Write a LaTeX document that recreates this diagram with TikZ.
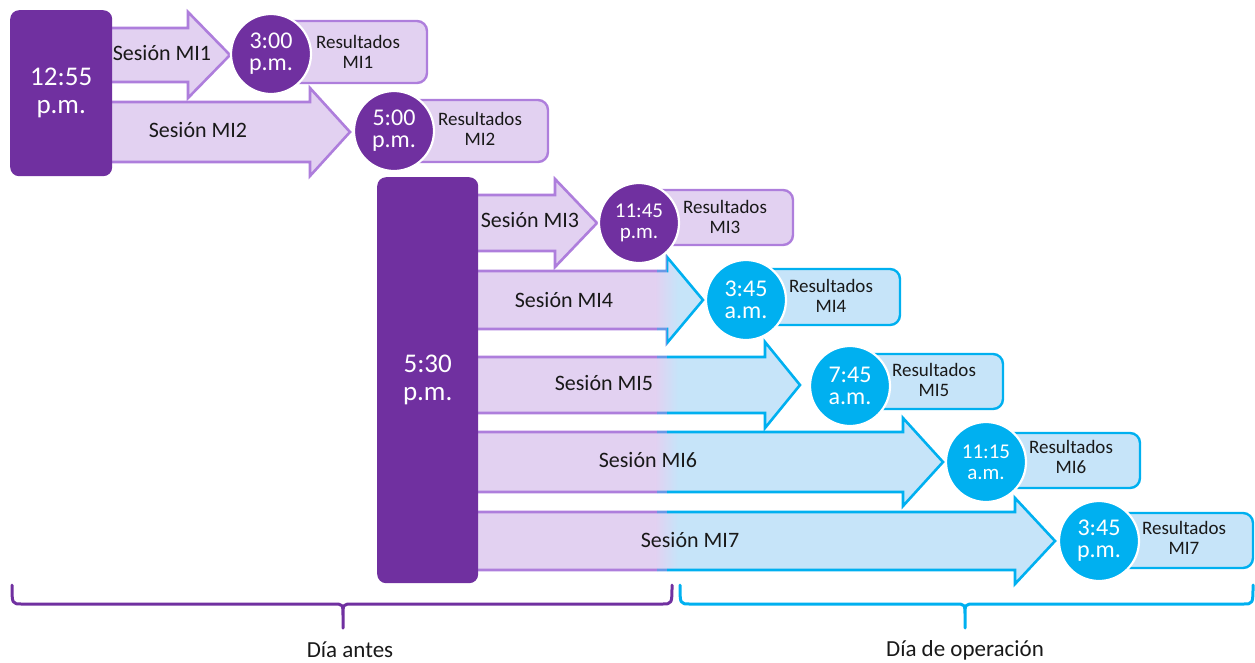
\documentclass[tikz,border=0pt]{standalone}
\usepackage{fontspec}
\setmainfont{Carlito}
\definecolor{pdark}{HTML}{7030A0}
\definecolor{lav}{HTML}{E2D1F1}
\definecolor{lavb}{HTML}{AE7EDC}
\definecolor{midb}{HTML}{6A98E6}
\definecolor{bblue}{HTML}{00B0F0}
\definecolor{lblue}{HTML}{C6E4F9}
\def\arrowpath#1#2#3#4#5#6{(#1,#4-#5) -- (#2,#4-#5) -- (#2,#4-#6) -- (#3,#4) -- (#2,#4+#6) -- (#2,#4+#5) -- (#1,#4+#5) -- cycle}
\newcommand\gradarrow[5]{%
  \begin{scope}
    \clip \arrowpath{460}{#1}{#2}{#3}{#4}{#5};
    \fill[lav] (460,#3-50) rectangle (656,#3+50);
    \shade[left color=lav,right color=lblue] (655.5,#3-50) rectangle (678,#3+50);
    \fill[lblue] (677.5,#3-50) rectangle (#2+5,#3+50);
  \end{scope}
  \begin{scope}\clip (0,#3-60) rectangle (657,#3+60);
    \draw[arrline,lavb] \arrowpath{460}{#1}{#2}{#3}{#4}{#5};\end{scope}
  \begin{scope}\clip (657,#3-60) rectangle (667,#3+60);
    \draw[arrline,midb] \arrowpath{460}{#1}{#2}{#3}{#4}{#5};\end{scope}
  \begin{scope}\clip (667,#3-60) rectangle (1255,#3+60);
    \draw[arrline,bblue] \arrowpath{460}{#1}{#2}{#3}{#4}{#5};\end{scope}}
\newcommand\bracepath[4]{%
  \draw[#4,line width=3pt,line cap=round,line join=round]
    (#1,585) .. controls (#1,604) .. (#1+10,604) -- (#2-10,604)
    .. controls (#2,604) .. (#2,616) -- (#2,628)
    (#2,616) .. controls (#2,604) .. (#2+10,604) -- (#3-10,604)
    .. controls (#3,604) .. (#3,585);}
\begin{document}
\begin{tikzpicture}[x=1pt,y=-1pt,
  arrline/.style={line width=2.6pt,line join=miter},
  tbox/.style={fill=pdark,rounded corners=9pt,text=white,align=center,
    font=\fontsize{27}{28}\selectfont,inner sep=0pt},
  tcirc/.style={circle,draw=white,line width=2.2pt,minimum size=80pt,inner sep=0pt,
    text=white,align=center,font=\fontsize{24}{22}\selectfont},
  tcircs/.style={tcirc,font=\fontsize{21}{21}\selectfont},
  resP/.style={fill=lav,draw=lavb,line width=2.4pt,rounded corners=10pt},
  resB/.style={fill=lblue,draw=bblue,line width=2.4pt,rounded corners=10pt},
  restxt/.style={align=center,text=black!90,font=\fontsize{19}{20}\selectfont},
  sestxt/.style={text=black!90,font=\fontsize{22}{24}\selectfont},
  daytxt/.style={text=black!90,inner sep=0pt,font=\fontsize{23}{24}\selectfont}]
\useasboundingbox (0,0) rectangle (1255,662);

% purple arrows
\draw[arrline,lavb,fill=lav] \arrowpath{100}{188}{230}{55}{27}{43};
\draw[arrline,lavb,fill=lav] \arrowpath{100}{310}{350}{132}{30}{44};
\draw[arrline,lavb,fill=lav] \arrowpath{460}{555}{597}{223}{28}{44};
% mixed arrows
\gradarrow{667}{703}{300}{29}{43}
\gradarrow{765}{800}{385}{28}{43}
\gradarrow{903}{943}{462}{30}{44}
\gradarrow{1015}{1055}{541}{29}{43}

% session labels
\node[sestxt] (s1) at (162,53) {Sesión MI1};
\node[sestxt] (s2) at (198,130) {Sesión MI2};
\node[sestxt] (s3) at (530,220) {Sesión MI3};
\node[sestxt] (s4) at (564,300) {Sesión MI4};
\node[sestxt] (s5) at (604,383) {Sesión MI5};
\node[sestxt] (s6) at (648,460) {Sesión MI6};
\node[sestxt] (s7) at (690,540) {Sesión MI7};

% results boxes
\draw[resP] (271,21) rectangle (427,83);
\draw[resP] (394,100) rectangle (548,162);
\draw[resP] (639,190) rectangle (793,245);
\draw[resB] (746,269) rectangle (900,325);
\draw[resB] (850,354) rectangle (1003,409);
\draw[resB] (986,433) rectangle (1140,488);
\draw[resB] (1099,513) rectangle (1253,568);
\node[restxt] (r1) at (358,52) {Resultados\\MI1};
\node[restxt] (r2) at (480,129) {Resultados\\MI2};
\node[restxt] (r3) at (725,217) {Resultados\\MI3};
\node[restxt] (r4) at (831,296) {Resultados\\MI4};
\node[restxt] (r5) at (934,380) {Resultados\\MI5};
\node[restxt] (r6) at (1071,457) {Resultados\\MI6};
\node[restxt] (r7) at (1184,538) {Resultados\\MI7};

% time circles
\node[tcirc,fill=pdark] (c1) at (271,54) {3:00\\p.m.};
\node[tcirc,fill=pdark] (c2) at (394,131) {5:00\\p.m.};
\node[tcircs,fill=pdark] (c3) at (639,223) {11:45\\p.m.};
\node[tcirc,fill=bblue] (c4) at (746,300) {3:45\\a.m.};
\node[tcirc,fill=bblue] (c5) at (850,386) {7:45\\a.m.};
\node[tcircs,fill=bblue] (c6) at (986,462) {11:15\\a.m.};
\node[tcirc,fill=bblue] (c7) at (1099,541) {3:45\\p.m.};

% start boxes
\node[tbox,anchor=north west,minimum width=102pt,minimum height=166pt] (b1) at (10,10) {12:55\\p.m.};
\node[tbox,anchor=north west,minimum width=101pt,minimum height=406pt] (b2) at (377,177) {5:30\\p.m.};

% braces
\bracepath{12}{343}{672}{pdark}
\bracepath{680}{965}{1253}{bblue}
\node[daytxt] (d1) at (350,650) {Día antes};
\node[daytxt] (d2) at (965,650) {Día de operación};
\end{tikzpicture}
\end{document}
